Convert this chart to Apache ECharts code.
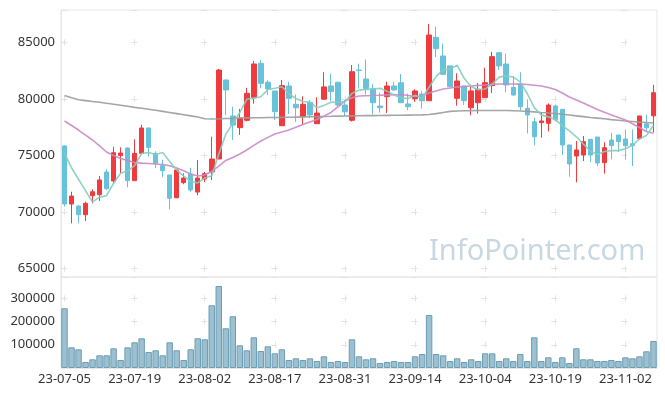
<!DOCTYPE html>
<html><head><meta charset="utf-8">
<script src="https://cdn.jsdelivr.net/npm/echarts@6/dist/echarts.min.js"></script>
<style>html,body{margin:0;padding:0;background:#fff}#c{width:665px;height:396px}</style>
</head><body><div id="c"></div>
<script>
const dates = [
'23-07-05','23-07-06','23-07-07','23-07-10','23-07-11','23-07-12','23-07-13','23-07-14','23-07-17','23-07-18','23-07-19','23-07-20','23-07-21','23-07-24','23-07-25','23-07-26','23-07-27','23-07-28','23-07-31',
'23-08-01','23-08-02','23-08-03','23-08-04','23-08-07','23-08-08','23-08-09','23-08-10','23-08-11','23-08-14','23-08-16','23-08-17','23-08-18','23-08-21','23-08-22','23-08-23','23-08-24','23-08-25','23-08-28','23-08-29','23-08-30','23-08-31',
'23-09-01','23-09-04','23-09-05','23-09-06','23-09-07','23-09-08','23-09-11','23-09-12','23-09-13','23-09-14','23-09-15','23-09-18','23-09-19','23-09-20','23-09-21','23-09-22','23-09-25','23-09-26','23-09-27',
'23-10-04','23-10-05','23-10-06','23-10-10','23-10-11','23-10-12','23-10-13','23-10-16','23-10-17','23-10-18','23-10-19','23-10-20','23-10-23','23-10-24','23-10-25','23-10-26','23-10-27','23-10-30','23-10-31',
'23-11-01','23-11-02','23-11-03','23-11-06','23-11-07','23-11-08'];

const opens = [75840,70720,70540,69770,71450,71540,73540,72750,75000,75660,72780,75190,77430,75190,74100,73280,71270,72600,73360,71770,72920,73570,74690,81670,78490,77460,78110,80110,83140,81470,80700,77630,81140,79520,78430,79700,77810,79970,81140,81470,79460,78110,82550,81760,80900,79370,80200,81140,81430,79550,80020,80430,79840,85440,83790,82910,80050,81140,79220,79660,80110,81170,84080,83080,81020,81320,79170,77980,77900,77840,79370,79080,75930,74960,75040,76430,76630,74370,76370,76810,76460,76040,76500,77800,78500];
const closes = [70720,71420,69770,70780,71800,72840,72070,75250,75220,72780,75190,77430,75720,74310,73660,71220,73720,73010,71950,73010,73390,74690,82550,80790,77690,78290,80490,83080,81380,80870,78870,81170,80050,79220,79520,78580,78750,81060,80640,79460,78870,82400,82500,80900,79660,79220,81140,80790,79660,79310,80700,79840,85640,84430,82170,81080,81580,79840,80700,80850,81430,83730,82910,81230,80340,79310,78580,76660,78050,79460,78140,75930,74250,75490,76220,75040,74340,75690,75870,76220,75870,75870,78490,77450,80550];
const lows = [70480,69010,69010,69210,70780,70980,71950,72480,73430,72190,72780,75100,74900,73900,73110,70250,71220,72460,71800,71480,72650,72840,74690,78580,76370,76810,78000,79580,80940,80340,78140,77630,78660,77950,77760,78290,77810,79970,79820,79300,78490,78000,80900,80370,78630,78790,78760,80720,79660,79000,79750,79140,79840,83690,82100,81080,79400,79460,78550,78700,80110,80520,82560,80580,80300,78960,76950,75890,76570,77120,78000,75040,73130,72630,74510,74420,74070,73390,74660,75310,74660,74070,76370,77100,77050];
const highs = [75900,71800,70600,70920,72010,73190,73780,75780,75720,75700,76430,77720,77450,75370,74630,73280,73760,73430,73920,74600,73550,76660,82640,81700,79310,79110,80980,83340,83430,81640,80700,81670,81520,80400,80230,79900,80140,82350,82230,81470,79900,82990,83110,83480,81300,80560,81520,81490,82200,80470,80850,80700,86620,86380,84880,82910,82260,81140,81250,81400,82760,84160,84080,84000,82030,82350,79960,78350,78790,79600,79500,79080,75930,76280,76720,76430,76630,76160,77010,76810,77300,77300,78490,78600,81250];
const prevCloses = [77770,74870,75830,76765];
const ma20 = [78050,77650,77250,76800,76370,75850,75310,75000,74735,74550,74380,74330,74290,74250,74205,74100,73900,73650,73365,73190,73280,73590,74070,74560,74820,75130,75490,75900,76280,76600,76900,77080,77250,77500,77740,77950,78180,78480,78800,79300,79810,80100,80260,80280,80300,80320,80350,80370,80390,80300,80210,80260,80520,80700,80870,80960,81050,81100,81140,81190,81230,81280,81320,81320,81320,81300,81270,81210,81140,81000,80830,80520,80170,79900,79640,79350,79060,78820,78580,78360,78140,77800,77470,77120,76960];
const ma60 = [80300,80100,79930,79850,79770,79700,79610,79530,79440,79350,79250,79170,79080,78990,78900,78800,78700,78600,78500,78400,78250,78230,78240,78270,78280,78310,78320,78330,78340,78350,78360,78370,78380,78390,78410,78420,78430,78450,78460,78480,78490,78500,78510,78520,78520,78530,78540,78550,78560,78570,78580,78590,78620,78700,78800,78900,78930,78950,78960,78970,78970,78980,78980,78970,78950,78930,78890,78850,78800,78760,78710,78640,78570,78500,78430,78360,78300,78240,78170,78110,78050,78000,77950,77910,77870];
const volumes = [257000,89000,80500,25900,37400,54600,54600,84800,34500,89000,110600,127900,69000,76200,54600,110600,76200,34500,80500,127900,123600,270000,353000,171000,222700,97700,76200,132000,73300,93400,63200,80500,34500,41700,34500,41700,30200,50300,25900,30200,25900,123600,50300,37400,41700,21600,25900,30200,25900,25900,50300,60300,228000,60300,54600,30200,41700,25900,37400,30200,63200,63200,30200,41700,30200,60300,30200,132000,30200,46000,25900,46000,21600,84800,37400,37400,30200,30200,34500,30200,46000,41700,50300,71800,116400];
const priceTicks = [65000,70000,75000,80000,85000];
const volumeTicks = [100000,200000,300000];

const ohlc = dates.map((d,i)=>[opens[i],closes[i],lows[i],highs[i]]);
const allCloses = prevCloses.concat(closes);
const ma5 = closes.map((c,i)=>{let s=0;for(let k=0;k<5;k++)s+=allCloses[i+4-k];return +(s/5).toFixed(0);});

const FONT = '"Noto Sans", sans-serif';
const chart = echarts.init(document.getElementById('c'), null, {renderer:'canvas'});
const gridCol = '#e6e6e6';
const crossCol = '#e2e2e2';
chart.setOption({
  animation:false,
  textStyle:{fontFamily:FONT},
  graphic:[{type:'text', left:429, top:237, z:0, silent:true,
    style:{text:'InfoPointer.com', font:'29px "Noto Sans", sans-serif', fill:'#c8d8e2'}}],
  grid:[
    {left:61, right:8, top:10, height:267, show:true, borderColor:gridCol, borderWidth:1},
    {left:61, right:8, top:277, height:91, show:true, borderColor:gridCol, borderWidth:1}
  ],
  xAxis:[
    {type:'category', gridIndex:0, data:dates, boundaryGap:true,
     axisLine:{show:false}, axisTick:{show:false}, axisLabel:{show:false},
     splitLine:{show:true, interval:9, alignWithLabel:true, lineStyle:{color:crossCol, width:1, type:[6,50.6], dashOffset:27.3}}},
    {type:'category', gridIndex:1, data:dates, boundaryGap:true,
     axisLine:{show:true, lineStyle:{color:gridCol}}, axisTick:{show:false},
     axisLabel:{interval:9, color:'#333', fontSize:13, margin:5, fontFamily:FONT},
     splitLine:{show:true, interval:9, alignWithLabel:true, lineStyle:{color:crossCol, width:1, type:[6,17.2], dashOffset:4.8}}}
  ],
  yAxis:[
    {type:'value', gridIndex:0, min:64270, max:87850, splitNumber:5,
     axisLine:{show:true, lineStyle:{color:gridCol}}, axisTick:{show:false},
     axisLabel:{color:'#333', fontSize:13, margin:6, showMinLabel:false, showMaxLabel:false, fontFamily:FONT,
       formatter:v=>priceTicks.indexOf(v)>=0?String(v):''},
     splitLine:{show:true, lineStyle:{color:crossCol, width:1, type:[6,64], dashOffset:69.7}}},
    {type:'value', gridIndex:1, min:0, max:391700, interval:100000,
     axisLine:{show:true, lineStyle:{color:gridCol}}, axisTick:{show:false},
     axisLabel:{color:'#333', fontSize:13, margin:6, showMinLabel:false, showMaxLabel:false, fontFamily:FONT,
       formatter:v=>volumeTicks.indexOf(v)>=0?String(v):''},
     splitLine:{show:true, lineStyle:{color:crossCol, width:1, type:[6,64], dashOffset:69.7}}}
  ],
  series:[
    {type:'candlestick', xAxisIndex:0, yAxisIndex:0, data:ohlc, barWidth:5,
     itemStyle:{color:'#ef3b3e', color0:'#68c2d9', borderColor:'#ef3b3e', borderColor0:'#68c2d9', borderWidth:1}},
    {type:'line', xAxisIndex:0, yAxisIndex:0, data:ma60, symbol:'none', lineStyle:{color:'#9b9b9b', width:1.6, opacity:0.9}},
    {type:'line', xAxisIndex:0, yAxisIndex:0, data:ma20, symbol:'none', lineStyle:{color:'#c98ac8', width:1.6, opacity:0.9}},
    {type:'line', xAxisIndex:0, yAxisIndex:0, data:ma5, symbol:'none', lineStyle:{color:'#86ccbd', width:1.6, opacity:0.9}},
    {type:'bar', xAxisIndex:1, yAxisIndex:1, data:volumes, barCategoryGap:'8%',
     itemStyle:{color:'#9cc0d0', borderColor:'#6b9db3', borderWidth:1}}
  ]
});
</script></body></html>
